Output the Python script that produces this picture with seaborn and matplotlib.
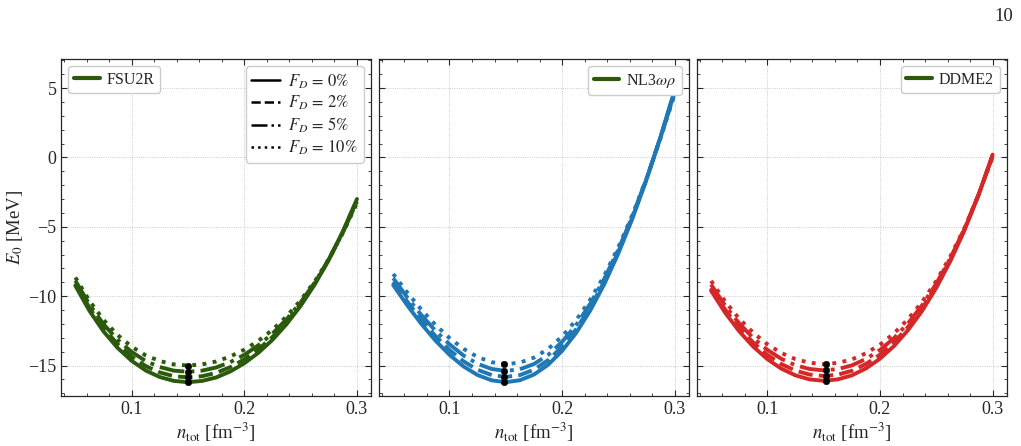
import numpy as np
import pandas as pd
import matplotlib
matplotlib.use("Agg")
import matplotlib.pyplot as plt
from matplotlib.lines import Line2D
from matplotlib.ticker import MultipleLocator
import seaborn as sns

# densidad total [fm^-3]
n_tot = [0.05, 0.0625, 0.075, 0.0875, 0.1, 0.1125, 0.125, 0.1375, 0.15, 0.1625, 0.175,
         0.1875, 0.2, 0.2125, 0.225, 0.2375, 0.25, 0.2625, 0.275, 0.2875, 0.3]
fractions = ["0", "2", "5", "10"]

# E_0 [MeV] para cada modelo y fraccion de materia oscura F_D
fsu2r_0 = [-9.25, -11.05, -12.54, -13.73, -14.66, -15.36, -15.83, -16.11, -16.20, -16.11, -15.86,
           -15.43, -14.84, -14.08, -13.15, -12.02, -10.70, -9.16, -7.38, -5.33, -3.00]
fsu2r_2 = [-9.08, -10.84, -12.30, -13.46, -14.36, -15.04, -15.50, -15.77, -15.85, -15.77, -15.53,
           -15.12, -14.56, -13.83, -12.94, -11.86, -10.58, -9.10, -7.37, -5.37, -3.09]
fsu2r_5 = [-8.88, -10.60, -12.02, -13.15, -14.02, -14.68, -15.11, -15.37, -15.45, -15.37, -15.14,
           -14.76, -14.23, -13.54, -12.70, -11.67, -10.45, -9.02, -7.35, -5.41, -3.19]
fsu2r_10 = [-8.65, -10.33, -11.71, -12.80, -13.64, -14.27, -14.68, -14.92, -15.00, -14.92, -14.71,
            -14.35, -13.86, -13.22, -12.43, -11.46, -10.30, -8.94, -7.33, -5.45, -3.30]

nl3_0 = [-9.20, -10.66, -12.00, -13.20, -14.23, -15.07, -15.69, -16.07, -16.20, -16.06, -15.65,
         -14.95, -13.94, -12.64, -11.03, -9.12, -6.90, -4.38, -1.57, 1.53, 4.90]
nl3_2 = [-8.97, -10.39, -11.70, -12.87, -13.88, -14.70, -15.31, -15.69, -15.82, -15.69, -15.30,
         -14.62, -13.64, -12.37, -10.80, -8.94, -6.77, -4.30, -1.55, 1.50, 4.80]
nl3_5 = [-8.70, -10.09, -11.36, -12.49, -13.47, -14.28, -14.88, -15.25, -15.39, -15.27, -14.89,
         -14.24, -13.29, -12.07, -10.54, -8.73, -6.62, -4.21, -1.52, 1.46, 4.69]
nl3_10 = [-8.40, -9.74, -10.97, -12.07, -13.02, -13.80, -14.39, -14.76, -14.90, -14.79, -14.43,
          -13.81, -12.90, -11.72, -10.25, -8.50, -6.45, -4.11, -1.49, 1.41, 4.57]

ddme2_0 = [-9.60, -11.19, -12.53, -13.64, -14.54, -15.23, -15.71, -16.00, -16.10, -16.00, -15.71,
           -15.21, -14.51, -13.59, -12.44, -11.05, -9.40, -7.47, -5.25, -2.70, 0.20]
ddme2_2 = [-9.40, -10.96, -12.27, -13.35, -14.23, -14.90, -15.37, -15.65, -15.75, -15.66, -15.38,
           -14.89, -14.22, -13.33, -12.21, -10.86, -9.26, -7.37, -5.20, -2.70, 0.15]
ddme2_5 = [-9.16, -10.68, -11.96, -13.02, -13.87, -14.52, -14.98, -15.25, -15.35, -15.26, -14.99,
           -14.53, -13.88, -13.02, -11.95, -10.64, -9.09, -7.26, -5.14, -2.70, 0.09]
ddme2_10 = [-8.90, -10.38, -11.62, -12.64, -13.47, -14.10, -14.54, -14.80, -14.90, -14.81, -14.56,
            -14.12, -13.50, -12.68, -11.65, -10.40, -8.90, -7.13, -5.08, -2.70, 0.02]

# puntos de saturacion
fsu2r_sat_n = [0.15, 0.15, 0.15, 0.15]
fsu2r_sat_E = [-16.2, -15.85, -15.45, -15.0]
nl3_sat_n = [0.148, 0.148, 0.148, 0.148]
nl3_sat_E = [-16.2, -15.82, -15.39, -14.9]
ddme2_sat_n = [0.152, 0.152, 0.152, 0.152]
ddme2_sat_E = [-16.1, -15.75, -15.35, -14.9]

models = ["FSU2R", r"NL3$\omega\rho$", "DDME2"]
colors = ["#2b5a0c", "#1f77b4", "#d62728"]
curves = [[fsu2r_0, fsu2r_2, fsu2r_5, fsu2r_10],
          [nl3_0, nl3_2, nl3_5, nl3_10],
          [ddme2_0, ddme2_2, ddme2_5, ddme2_10]]
sat_n = [fsu2r_sat_n, nl3_sat_n, ddme2_sat_n]
sat_E = [fsu2r_sat_E, nl3_sat_E, ddme2_sat_E]
styles = ["-", "--", "-.", ":"]

sns.set_style("ticks")
plt.rcParams["font.family"] = ["Liberation Serif", "DejaVu Serif"]
plt.rcParams["mathtext.fontset"] = "stix"
plt.rcParams["xtick.direction"] = "in"
plt.rcParams["ytick.direction"] = "in"

fig, axes = plt.subplots(1, 3, figsize=(10.21, 4.46), dpi=100, sharey=True)
fig.subplots_adjust(left=0.06, right=0.986, top=0.868, bottom=0.112, wspace=0.026)

for i, ax in enumerate(axes):
    for E, ls in zip(curves[i], styles):
        sns.lineplot(x=n_tot, y=E, ax=ax, color=colors[i], linestyle=ls, lw=2.8)
    sns.scatterplot(x=sat_n[i], y=sat_E[i], ax=ax, color="black", s=22,
                    edgecolor="black", zorder=5)

    ax.set_xlim(0.0375, 0.3125)
    ax.set_ylim(-17.2, 7.1)
    ax.xaxis.set_major_locator(MultipleLocator(0.1))
    ax.xaxis.set_minor_locator(MultipleLocator(0.02))
    ax.yaxis.set_major_locator(MultipleLocator(5))
    ax.yaxis.set_minor_locator(MultipleLocator(1))
    ax.tick_params(which="both", top=True, right=True, labelsize=13)
    ax.tick_params(which="major", length=4.5)
    ax.tick_params(which="minor", length=2.5)
    ax.grid(True, which="major", ls=":", lw=0.6, color="#bbbbbb")
    for s in ax.spines.values():
        s.set_linewidth(0.9)
    ax.set_xlabel(r"$n_{\rm tot}$ [fm$^{-3}$]", fontsize=13.5, labelpad=2)

    h_model = [Line2D([], [], color="#2b5a0c", lw=3)]
    leg1 = ax.legend(h_model, [models[i]], loc="upper left" if i == 0 else "upper right",
                     fontsize=11.5, handlelength=1.6, handletextpad=0.45, borderpad=0.35,
                     borderaxespad=0.45, fancybox=True, framealpha=1, edgecolor="#cccccc")
    if i == 0:
        ax.add_artist(leg1)
        h_fd = [Line2D([], [], color="black", lw=1.8, ls=ls) for ls in styles]
        lab_fd = [r"$F_D\,{=}\,%s\%%$" % f for f in fractions]
        ax.legend(h_fd, lab_fd, loc="upper right", fontsize=12, handlelength=1.7,
                  handletextpad=0.5, borderpad=0.35, labelspacing=0.2, borderaxespad=0.45,
                  fancybox=True, framealpha=1, edgecolor="#cccccc")

axes[0].set_ylabel(r"$E_0$ [MeV]", fontsize=13.5, labelpad=2)

fig.text(0.992, 0.962, "10", ha="right", va="center", fontsize=13.5)

fig.savefig("out.png", dpi=100)
